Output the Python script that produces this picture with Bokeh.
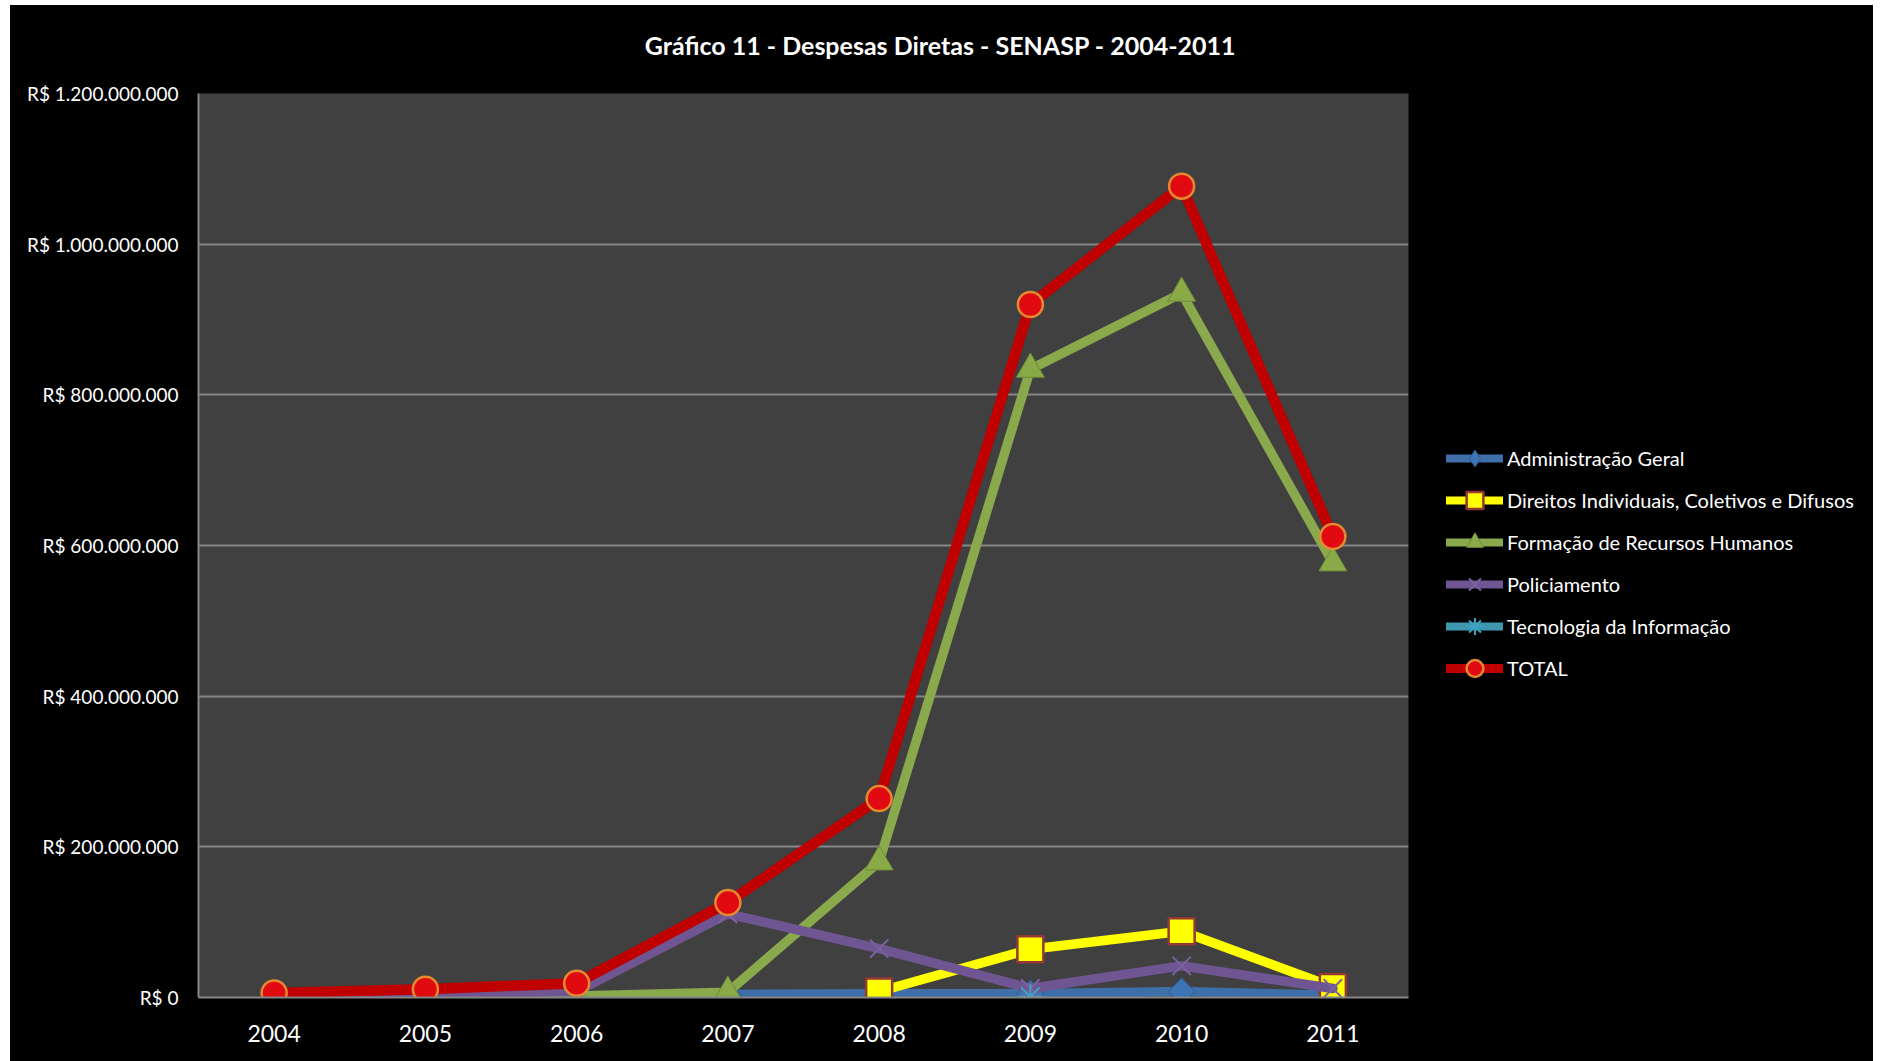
import math
from bokeh.plotting import figure
from bokeh.layouts import row, column
from bokeh.models import (FactorRange, Range1d, Legend, LegendItem, Label,
                          FixedTicker, ColumnDataSource)
from bokeh.embed import file_html
from bokeh.resources import INLINE

nan = float("nan")

years = ["2004", "2005", "2006", "2007", "2008", "2009", "2010", "2011"]

administracao = [nan, nan, nan, 4e6, 5e6, 5e6, 8e6, 3e6]
direitos = [nan, nan, nan, nan, 8e6, 64e6, 88e6, 14e6]
formacao = [0.5e6, 1e6, 2e6, 7e6, 180e6, 834e6, 935e6, 577e6]
policiamento = [3e6, 4.5e6, 8e6, 111e6, 65e6, 12e6, 42e6, 12e6]
tecnologia = [nan, nan, nan, nan, nan, 1e6, nan, nan]
total = [6e6, 11e6, 19e6, 126e6, 264e6, 920e6, 1077e6, 612e6]

y_ticks = [0, 200e6, 400e6, 600e6, 800e6, 1000e6, 1200e6]
y_tick_labels = ["R$ 0", "R$ 200.000.000", "R$ 400.000.000", "R$ 600.000.000",
                 "R$ 800.000.000", "R$ 1.000.000.000", "R$ 1.200.000.000"]

title_text = "Gráfico 11 - Despesas Diretas - SENASP - 2004-2011"

FONT = "Lato"
BLACK = {"background-color": "#000000"}


def blank_figure(w, h):
    f = figure(width=w, height=h, output_backend="svg", toolbar_location=None,
               x_range=Range1d(0, 1), y_range=Range1d(0, 1),
               x_axis_type=None, y_axis_type=None,
               min_border_left=0, min_border_right=0, min_border_top=0,
               min_border_bottom=0)
    f.background_fill_color = "#000000"
    f.border_fill_color = "#000000"
    f.outline_line_color = None
    f.grid.grid_line_color = None
    f.styles = dict(BLACK)
    return f


# ---- title strip ----
tf = blank_figure(1863, 60)
tf.add_layout(Label(x=930, y=21, x_units="screen", y_units="screen",
                    text=title_text, text_align="center", text_baseline="middle",
                    text_color="#FFFFFF", text_font=FONT, text_font_style="bold",
                    text_font_size="25px"))

# ---- main chart ----
p = figure(x_range=FactorRange(*years), y_range=Range1d(0, 1.2e9),
           width=1418, height=996, output_backend="svg", toolbar_location=None,
           min_border_left=188, min_border_right=20, min_border_top=28,
           min_border_bottom=64)
p.styles = dict(BLACK)
p.background_fill_color = "#404040"
p.border_fill_color = "#000000"
p.outline_line_color = None

p.xgrid.grid_line_color = None
p.ygrid.grid_line_color = "#868686"
p.ygrid.grid_line_width = 2

p.yaxis.ticker = FixedTicker(ticks=y_ticks)
p.yaxis.major_label_overrides = {t: l for t, l in zip(y_ticks, y_tick_labels)}
for ax in (p.xaxis[0], p.yaxis[0]):
    ax.axis_line_color = "#868686"
    ax.axis_line_width = 2
    ax.major_tick_line_color = None
    ax.minor_tick_line_color = None
    ax.major_tick_out = 0
    ax.major_tick_in = 0
    ax.major_label_text_color = "#FFFFFF"
    ax.major_label_text_font = FONT
p.yaxis.major_label_text_font_size = "19px"
p.yaxis.major_label_standoff = 20
p.xaxis.major_label_text_font_size = "23px"
p.xaxis.major_label_standoff = 27

series = [
    ("Administração Geral", administracao, "#3F6FA8",
     dict(marker="square", size=19, angle=math.pi / 4, fill_color="#3D74B5",
          line_color="#2F5A8C", line_width=1)),
    ("Direitos Individuais, Coletivos e Difusos", direitos, "#FFFF00",
     dict(marker="square", size=26, fill_color="#FFFF00",
          line_color="#953735", line_width=2.5)),
    ("Formação de Recursos Humanos", formacao, "#8AA84C",
     dict(marker="triangle", size=28, fill_color="#8AAA48",
          line_color="#6E8A3A", line_width=1)),
    ("Policiamento", policiamento, "#6F5591",
     dict(marker="x", size=26, line_color="#7A62A0", line_width=2)),
    ("Tecnologia da Informação", tecnologia, "#3D97B0",
     dict(marker="asterisk", size=26, line_color="#3FA3C0", line_width=2)),
    ("TOTAL", total, "#C00000",
     dict(marker="circle", size=25, fill_color="#E00A10",
          line_color="#E38A30", line_width=2.5)),
]

# ---- legend strip (legend glyphs only; no visible data) ----
pl = blank_figure(445, 996)

items = []
for name, vals, color, mk in series:
    src = ColumnDataSource(dict(x=years, y=vals))
    lw = 10.5 if name == "TOTAL" else 9.5
    p.line("x", "y", source=src, line_color=color, line_width=lw,
           line_join="round", line_cap="round")
    p.scatter("x", "y", source=src, **mk)

    hidden = ColumnDataSource(dict(x=[nan], y=[nan]))
    lmk = dict(mk)
    if "angle" in lmk:
        lmk.pop("angle")
        lmk["marker"] = "diamond"
    lr = pl.line("x", "y", source=hidden, line_color=color, line_width=lw - 1.5,
                 line_join="round", line_cap="round")
    sr = pl.scatter("x", "y", source=hidden, **lmk)
    items.append(LegendItem(label=name, renderers=[lr, sr]))

legend = Legend(items=items, location=(18, 308))
legend.background_fill_alpha = 0
legend.border_line_alpha = 0
legend.padding = 0
legend.margin = 0
legend.spacing = 0
legend.glyph_width = 57
legend.glyph_height = 42
legend.label_standoff = 4
legend.label_text_color = "#FFFFFF"
legend.label_text_font = FONT
legend.label_text_font_size = "20px"
legend.label_height = 42
pl.add_layout(legend)

inner = row(p, pl, spacing=0)
inner.styles = dict(BLACK)
layout = column(tf, inner, spacing=0)
layout.styles = {"margin-left": "10px", "margin-top": "5px",
                 "background-color": "#000000"}

open("out.html", "w").write(file_html(layout, INLINE))
